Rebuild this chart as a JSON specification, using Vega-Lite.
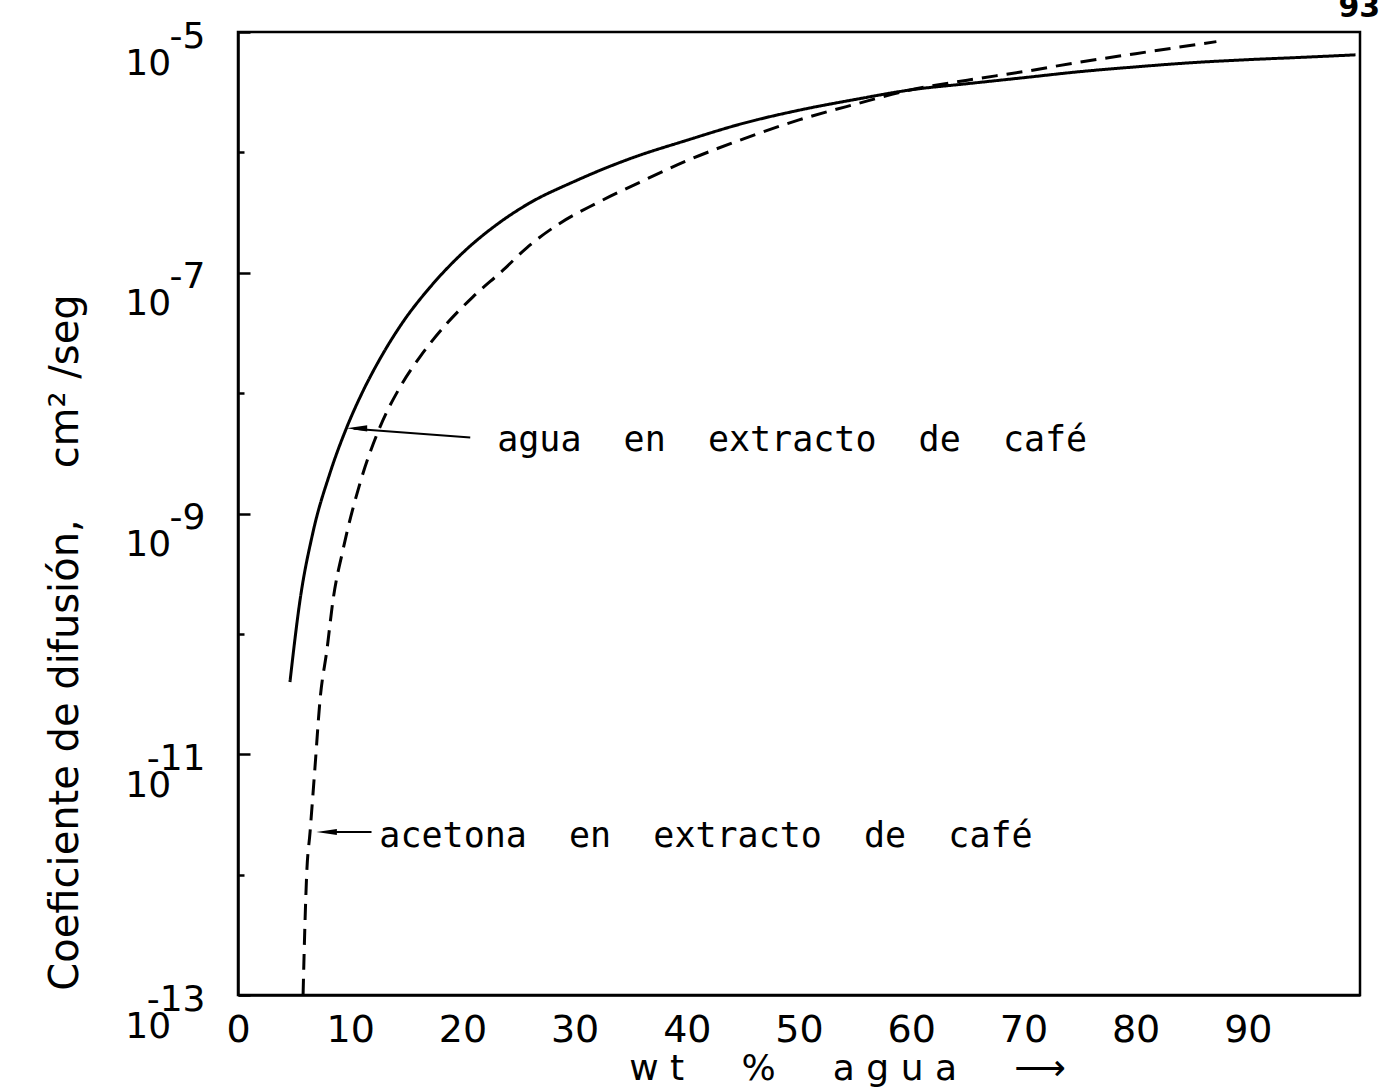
{
  "$schema": "https://vega.github.io/schema/vega-lite/v6.json",
  "width": 1122,
  "height": 963,
  "autosize": "none",
  "padding": {"left": 238, "top": 32, "right": 23, "bottom": 95},
  "background": "white",
  "config": {
    "view": {"stroke": "black", "strokeWidth": 2.5},
    "axis": {"domainColor": "black", "domainWidth": 2.5, "grid": false, "labelColor": "black", "titleColor": "black", "labelFont": "DejaVu Sans", "titleFont": "DejaVu Sans", "titleFontWeight": "normal"}
  },
  "datasets": {
    "curves": [
      {"series": "agua", "x": 4.63, "D": 3.98e-11},
      {"series": "agua", "x": 5.53, "D": 1.91e-10},
      {"series": "agua", "x": 6.68, "D": 6.97e-10},
      {"series": "agua", "x": 8.2, "D": 2.17e-9},
      {"series": "agua", "x": 9.71, "D": 5.24e-9},
      {"series": "agua", "x": 11.14, "D": 1.04e-8},
      {"series": "agua", "x": 12.66, "D": 1.93e-8},
      {"series": "agua", "x": 14.71, "D": 3.91e-8},
      {"series": "agua", "x": 17.11, "D": 7.57e-8},
      {"series": "agua", "x": 20.05, "D": 1.47e-7},
      {"series": "agua", "x": 23.08, "D": 2.52e-7},
      {"series": "agua", "x": 25.76, "D": 3.69e-7},
      {"series": "agua", "x": 30.0, "D": 5.75e-7},
      {"series": "agua", "x": 35.0, "D": 8.91e-7},
      {"series": "agua", "x": 40.0, "D": 1.26e-6},
      {"series": "agua", "x": 45.0, "D": 1.74e-6},
      {"series": "agua", "x": 50.0, "D": 2.24e-6},
      {"series": "agua", "x": 55.0, "D": 2.75e-6},
      {"series": "agua", "x": 60.0, "D": 3.31e-6},
      {"series": "agua", "x": 65.0, "D": 3.72e-6},
      {"series": "agua", "x": 70.0, "D": 4.17e-6},
      {"series": "agua", "x": 75.0, "D": 4.68e-6},
      {"series": "agua", "x": 80.0, "D": 5.13e-6},
      {"series": "agua", "x": 85.0, "D": 5.56e-6},
      {"series": "agua", "x": 90.0, "D": 5.89e-6},
      {"series": "agua", "x": 95.0, "D": 6.17e-6},
      {"series": "agua", "x": 99.6, "D": 6.46e-6},
      {"series": "acetona", "x": 5.8, "D": 1.0e-13},
      {"series": "acetona", "x": 5.97, "D": 3.98e-13},
      {"series": "acetona", "x": 6.12, "D": 1.0e-12},
      {"series": "acetona", "x": 6.42, "D": 2.24e-12},
      {"series": "acetona", "x": 6.86, "D": 7.76e-12},
      {"series": "acetona", "x": 7.31, "D": 2.82e-11},
      {"series": "acetona", "x": 7.93, "D": 7.41e-11},
      {"series": "acetona", "x": 8.47, "D": 1.91e-10},
      {"series": "acetona", "x": 9.36, "D": 5.01e-10},
      {"series": "acetona", "x": 10.87, "D": 1.78e-9},
      {"series": "acetona", "x": 12.66, "D": 5.25e-9},
      {"series": "acetona", "x": 14.44, "D": 1.12e-8},
      {"series": "acetona", "x": 16.22, "D": 2.0e-8},
      {"series": "acetona", "x": 18.63, "D": 3.8e-8},
      {"series": "acetona", "x": 20.94, "D": 6.31e-8},
      {"series": "acetona", "x": 23.62, "D": 1.05e-7},
      {"series": "acetona", "x": 25.76, "D": 1.62e-7},
      {"series": "acetona", "x": 28.5, "D": 2.51e-7},
      {"series": "acetona", "x": 32.0, "D": 3.8e-7},
      {"series": "acetona", "x": 36.0, "D": 5.75e-7},
      {"series": "acetona", "x": 40.0, "D": 8.51e-7},
      {"series": "acetona", "x": 45.0, "D": 1.29e-6},
      {"series": "acetona", "x": 50.0, "D": 1.86e-6},
      {"series": "acetona", "x": 55.0, "D": 2.51e-6},
      {"series": "acetona", "x": 60.0, "D": 3.31e-6},
      {"series": "acetona", "x": 65.0, "D": 3.98e-6},
      {"series": "acetona", "x": 70.0, "D": 4.68e-6},
      {"series": "acetona", "x": 75.0, "D": 5.62e-6},
      {"series": "acetona", "x": 80.0, "D": 6.61e-6},
      {"series": "acetona", "x": 85.0, "D": 7.76e-6},
      {"series": "acetona", "x": 87.2, "D": 8.32e-6}
    ],
    "arrows": [
      {"x": 20.7, "D": 4.27e-9, "x2": 10.3, "D2": 5.05e-9},
      {"x": 11.9, "D": 2.26e-12, "x2": 7.6, "D2": 2.26e-12}
    ],
    "heads": [
      {"x": 10.6, "D": 5.1e-9},
      {"x": 7.9, "D": 2.26e-12}
    ],
    "notes": [
      {"x": 23.1, "D": 4.07e-9, "label": "agua\u00a0\u00a0en\u00a0\u00a0extracto\u00a0\u00a0de\u00a0\u00a0café"},
      {"x": 12.6, "D": 2.09e-12, "label": "acetona\u00a0\u00a0en\u00a0\u00a0extracto\u00a0\u00a0de\u00a0\u00a0café"}
    ],
    "page": [
      {"x": 101.8, "D": 1.33e-5, "label": "93"}
    ]
  },
  "encoding": {
    "x": {
      "field": "x", "type": "quantitative",
      "scale": {"domain": [0, 100], "nice": false, "zero": false},
      "axis": {
        "values": [0, 10, 20, 30, 40, 50, 60, 70, 80, 90],
        "ticks": false, "labelFontSize": 38, "labelPadding": 16, "labelFlush": false, "labelOverlap": false,
        "title": "w\u00a0t\u00a0\u00a0\u00a0\u00a0\u00a0%\u00a0\u00a0\u00a0\u00a0\u00a0a\u00a0g\u00a0u\u00a0a\u00a0\u00a0\u00a0\u00a0\u00a0⟶",
        "titleX": 609, "titleY": 73, "titleAlign": "center", "titleBaseline": "middle", "titleFontSize": 36
      }
    },
    "y": {
      "field": "D", "type": "quantitative",
      "scale": {"type": "log", "domain": [1e-13, 1e-5], "nice": false},
      "axis": {
        "values": [1e-13, 1e-12, 1e-11, 1e-10, 1e-9, 1e-8, 1e-7, 1e-6, 1e-5],
        "labelExpr": "(abs(round(log(datum.value)/LN10)) % 2 == 1) ? ['-' + abs(round(log(datum.value)/LN10)), '10\u00a0\u00a0\u00a0\u200b'] : ''",
        "labelAlign": "right", "labelBaseline": "middle", "labelLineHeight": 27, "labelOffset": 4,
        "labelPadding": 45, "labelFontSize": 36, "labelFlush": false, "labelOverlap": false,
        "tickSize": {"condition": {"test": "abs(round(log(datum.value)/LN10)) % 2 == 1", "value": -12}, "value": -6},
        "tickColor": "black", "tickWidth": 2.5,
        "title": "Coeficiente de difusión,\u00a0\u00a0\u00a0\u00a0cm²\u00a0/seg",
        "titleX": -173, "titleY": 610, "titleAngle": -90, "titleAlign": "center", "titleBaseline": "middle", "titleFontSize": 40
      }
    }
  },
  "layer": [
    {
      "data": {"name": "curves"},
      "mark": {"type": "line", "interpolate": "monotone", "strokeWidth": 3, "color": "black"},
      "encoding": {
        "strokeDash": {"field": "series", "type": "nominal", "scale": {"domain": ["agua", "acetona"], "range": [[1, 0], [16, 9]]}, "legend": null}
      }
    },
    {
      "data": {"name": "arrows"},
      "mark": {"type": "rule", "strokeWidth": 2, "color": "black"},
      "encoding": {
        "x2": {"field": "x2"},
        "y2": {"field": "D2"}
      }
    },
    {
      "data": {"name": "heads"},
      "mark": {"type": "point", "shape": "M-1,0L1,-0.3L1,0.3Z", "filled": true, "size": 420, "color": "black", "opacity": 1, "strokeWidth": 0}
    },
    {
      "data": {"name": "notes"},
      "mark": {"type": "text", "align": "left", "baseline": "middle", "font": "DejaVu Sans Mono", "fontSize": 35, "color": "black"},
      "encoding": {
        "text": {"field": "label"}
      }
    },
    {
      "data": {"name": "page"},
      "mark": {"type": "text", "align": "right", "baseline": "alphabetic", "font": "DejaVu Sans", "fontSize": 30, "fontWeight": "bold", "color": "black"},
      "encoding": {
        "text": {"field": "label"}
      }
    }
  ]
}
